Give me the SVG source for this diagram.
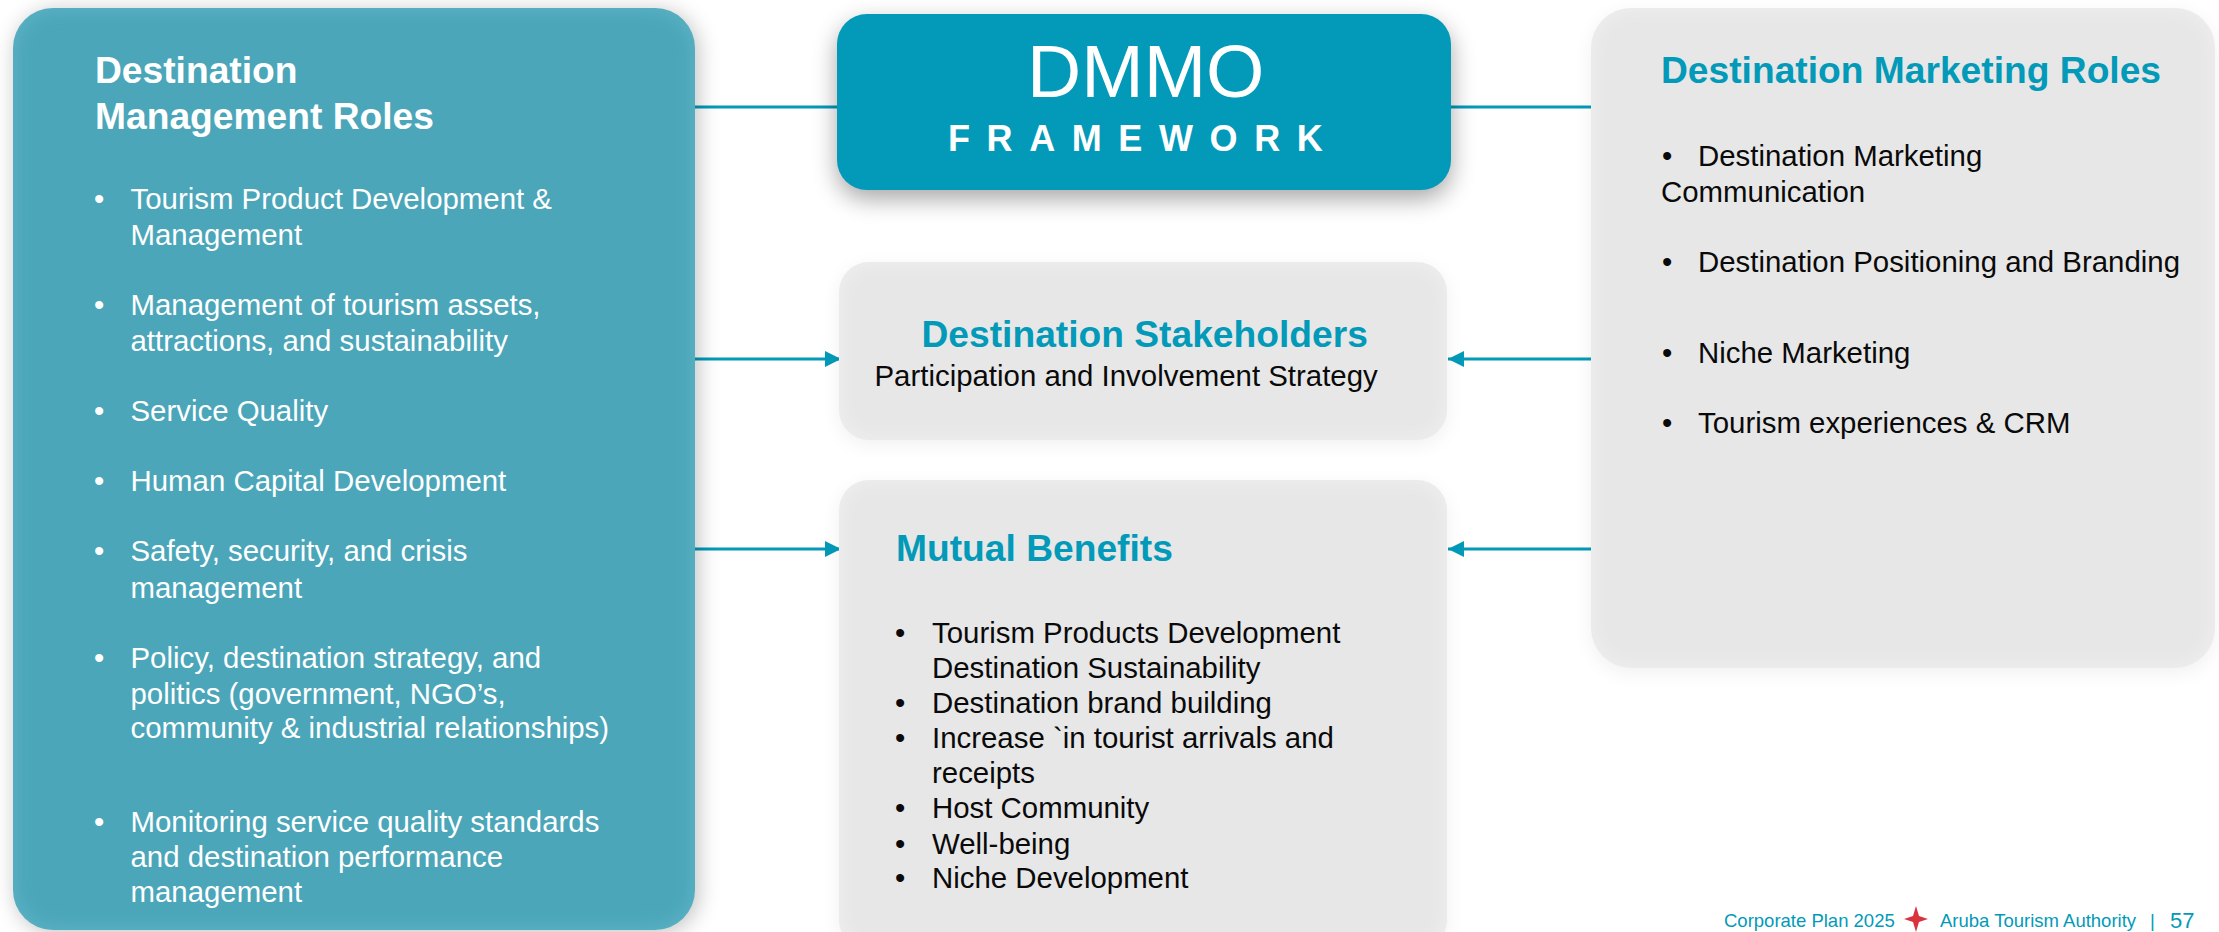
<svg xmlns="http://www.w3.org/2000/svg" width="2219" height="932" viewBox="0 0 2219 932">
<defs>
<style>
text{font-family:"Liberation Sans",Arial,sans-serif}
.b{font-size:29.4px}
.w{fill:#fff}
.k{fill:#0a0a0a}
.h{font-size:37.2px;font-weight:700}
.t{fill:#029ab8}
.f{font-size:18.5px;fill:#029ab8}
.c{fill:none;stroke:#029ab8;stroke-width:3}
.g{fill:#e7e7e7}
</style>
<filter id="softG" x="-10%" y="-10%" width="120%" height="120%" color-interpolation-filters="sRGB">
<feGaussianBlur in="SourceAlpha" stdDeviation="10"/><feOffset dy="5"/><feComponentTransfer result="s"><feFuncA type="linear" slope="0.06"/></feComponentTransfer>
<feFlood flood-color="#fff" flood-opacity="0.4"/><feComposite in2="SourceAlpha" operator="out" result="o"/><feGaussianBlur in="o" stdDeviation="11" result="ob"/>
<feComposite in="ob" in2="SourceAlpha" operator="in" result="glow"/>
<feMerge><feMergeNode in="s"/><feMergeNode in="SourceGraphic"/><feMergeNode in="glow"/></feMerge>
</filter>
<filter id="softL" x="-10%" y="-10%" width="120%" height="120%" color-interpolation-filters="sRGB">
<feGaussianBlur in="SourceAlpha" stdDeviation="11"/><feOffset dx="3" dy="3"/><feComponentTransfer result="s"><feFuncA type="linear" slope="0.25"/></feComponentTransfer>
<feFlood flood-color="#8fd8e8" flood-opacity="0.3"/><feComposite in2="SourceAlpha" operator="out" result="o"/><feGaussianBlur in="o" stdDeviation="11" result="ob"/>
<feComposite in="ob" in2="SourceAlpha" operator="in" result="glow"/>
<feMerge><feMergeNode in="s"/><feMergeNode in="SourceGraphic"/><feMergeNode in="glow"/></feMerge>
</filter>
<filter id="shadowD" x="-15%" y="-30%" width="130%" height="170%" color-interpolation-filters="sRGB">
<feGaussianBlur in="SourceAlpha" stdDeviation="12"/><feOffset dy="9"/><feComponentTransfer result="s"><feFuncA type="linear" slope="0.35"/></feComponentTransfer>
<feMerge><feMergeNode in="s"/><feMergeNode in="SourceGraphic"/></feMerge>
</filter>
<marker id="arrow" markerUnits="userSpaceOnUse" markerWidth="17" markerHeight="17" refX="16" refY="8.5" orient="auto-start-reverse"><path d="M0 0.5L16 8.5L0 16.5Z" fill="#029ab8"/></marker>
</defs>
<rect width="2219" height="932" fill="#fff"/>
<g id="connectors">
<path class="c" d="M695 107H837"/>
<path class="c" d="M1451 107H1591"/>
<path class="c" d="M695 359H841" marker-end="url(#arrow)"/>
<path class="c" d="M1591 359H1448" marker-end="url(#arrow)"/>
<path class="c" d="M695 549H841" marker-end="url(#arrow)"/>
<path class="c" d="M1591 549H1448" marker-end="url(#arrow)"/>
</g>
<g id="management-roles">
<rect x="13" y="8" width="682" height="922" rx="40" fill="#4ba6b9" filter="url(#softL)"/>
<text class="h w" x="95" y="83">Destination</text>
<text class="h w" x="95" y="129">Management Roles</text>
<g class="b w">
<text x="94" y="209">•</text><text x="130.5" y="209">Tourism Product Development &amp;</text><text x="130.5" y="245">Management</text>
<text x="94" y="315">•</text><text x="130.5" y="315">Management of tourism assets,</text><text x="130.5" y="351">attractions, and sustainability</text>
<text x="94" y="421">•</text><text x="130.5" y="421">Service Quality</text>
<text x="94" y="491">•</text><text x="130.5" y="491">Human Capital Development</text>
<text x="94" y="561">•</text><text x="130.5" y="561">Safety, security, and crisis</text><text x="130.5" y="598">management</text>
<text x="94" y="668">•</text><text x="130.5" y="668">Policy, destination strategy, and</text><text x="130.5" y="704">politics (government, NGO’s,</text><text x="130.5" y="738">community &amp; industrial relationships)</text>
<text x="94" y="832">•</text><text x="130.5" y="832">Monitoring service quality standards</text><text x="130.5" y="867">and destination performance</text><text x="130.5" y="902">management</text>
</g>
</g>
<g id="dmmo">
<rect x="837" y="14" width="614" height="176" rx="30" fill="#029ab8" filter="url(#shadowD)"/>
<text class="w" x="1027" y="97" font-size="75">DMMO</text>
<text class="w" x="948" y="151" font-size="36" font-weight="700" letter-spacing="16.6">FRAMEWORK</text>
</g>
<g id="stakeholders">
<rect class="g" x="839" y="262" width="608" height="178" rx="30" filter="url(#softG)"/>
<text class="h t" x="921.5" y="347">Destination Stakeholders</text>
<text class="b k" x="874.5" y="386">Participation and Involvement Strategy</text>
</g>
<g id="mutual-benefits">
<rect class="g" x="839" y="480" width="608" height="470" rx="30" filter="url(#softG)"/>
<text class="h t" x="896" y="561">Mutual Benefits</text>
<g class="b k">
<text x="895" y="643">•</text><text x="932" y="643">Tourism Products Development</text><text x="932" y="678">Destination Sustainability</text>
<text x="895" y="713">•</text><text x="932" y="713">Destination brand building</text>
<text x="895" y="748">•</text><text x="932" y="748">Increase `in tourist arrivals and</text><text x="932" y="783">receipts</text>
<text x="895" y="818">•</text><text x="932" y="818">Host Community</text>
<text x="895" y="854">•</text><text x="932" y="854">Well-being</text>
<text x="895" y="888">•</text><text x="932" y="888">Niche Development</text>
</g>
</g>
<g id="marketing-roles">
<rect class="g" x="1591" y="8" width="624" height="660" rx="40" filter="url(#softG)"/>
<text class="h t" x="1661" y="83">Destination Marketing Roles</text>
<g class="b k">
<text x="1662" y="166">•</text><text x="1698" y="166">Destination Marketing</text><text x="1661" y="202">Communication</text>
<text x="1662" y="272">•</text><text x="1698" y="272">Destination Positioning and Branding</text>
<text x="1662" y="363">•</text><text x="1698" y="363">Niche Marketing</text>
<text x="1662" y="433">•</text><text x="1698" y="433">Tourism experiences &amp; CRM</text>
</g>
</g>
<g id="footer">
<text class="f" x="1724" y="927">Corporate Plan 2025</text>
<path d="M1916 906L1919 916L1928 919L1919 922L1916 932L1913 922L1904 919L1913 916Z" fill="#d9333f"/>
<text class="f" x="1940" y="927">Aruba Tourism Authority</text>
<text class="f" x="2150" y="927">|</text>
<text x="2170" y="928" font-size="22" fill="#029ab8">57</text>
</g>
</svg>
